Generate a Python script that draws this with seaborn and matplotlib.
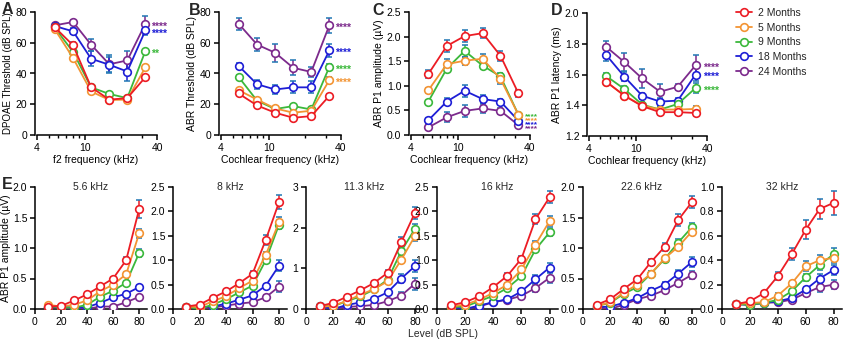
import numpy as np
import pandas as pd
import matplotlib
matplotlib.use("Agg")
import matplotlib.pyplot as plt
import seaborn as sns
from matplotlib.lines import Line2D
from matplotlib.ticker import FixedLocator, FixedFormatter, NullFormatter

# --- data ---
ages = ['2 Months', '5 Months', '9 Months', '18 Months', '24 Months']
colors = ['#EC1C24', '#F39433', '#3BB83B', '#1E1ED6', '#7C2A8C']
freqs = [5.6, 8, 11.3, 16, 22.6, 32]

# A: DPOAE threshold (dB SPL), rows follow `ages`
dpoae_thr = [[70.2, 58.3, 31.1, 23.0, 24.0, 37.6],
             [69.0, 50.0, 28.3, 22.8, 23.0, 44.0],
             [70.0, 54.0, 31.0, 26.7, 24.0, 54.6],
             [70.9, 67.4, 49.6, 45.7, 41.3, 68.0],
             [71.3, 73.5, 58.7, 46.0, 48.5, 72.4]]
dpoae_sem = [[1, 2, 1, 1, 1, 1],
             [1, 1, 1, 1, 1, 1],
             [1, 1, 1, 1, 1, 1],
             [1, 2, 5, 5, 6, 3],
             [1, 1, 4, 6, 6, 5]]

# B: ABR threshold (dB SPL)
abr_thr = [[27.0, 19.2, 14.5, 11.2, 12.3, 25.5],
           [29.2, 23.0, 17.3, 14.5, 15.8, 35.7],
           [37.8, 22.3, 16.9, 18.8, 16.6, 44.3],
           [45.0, 33.0, 29.6, 31.0, 31.0, 55.0],
           [72.4, 58.8, 53.5, 43.7, 41.0, 71.4]]
abr_sem = [[1, 1, 1, 1, 1, 1],
           [1, 1, 1, 1, 1, 2],
           [1, 1, 1, 1, 1, 2],
           [2, 3, 3, 4, 4, 4],
           [4, 4, 6, 5, 3, 5]]

# C: ABR P1 amplitude (uV) at 80 dB
p1_amp = [[1.24, 1.81, 2.01, 2.07, 1.61, 0.845],
          [0.91, 1.44, 1.51, 1.55, 1.14, 0.41],
          [0.68, 1.35, 1.71, 1.41, 1.19, 0.41],
          [0.30, 0.68, 0.90, 0.73, 0.68, 0.29],
          [0.155, 0.36, 0.49, 0.54, 0.49, 0.20]]
p1_amp_sem = [[0.08, 0.12, 0.12, 0.10, 0.10, 0.07],
              [0.05, 0.10, 0.08, 0.10, 0.10, 0.04],
              [0.04, 0.07, 0.12, 0.06, 0.08, 0.03],
              [0.05, 0.07, 0.12, 0.08, 0.06, 0.03],
              [0.04, 0.10, 0.12, 0.10, 0.06, 0.03]]

# D: ABR P1 latency (ms)
p1_lat = [[1.553, 1.462, 1.394, 1.355, 1.355, 1.350],
          [1.553, 1.462, 1.398, 1.372, 1.372, 1.376],
          [1.590, 1.505, 1.404, 1.372, 1.408, 1.512],
          [1.727, 1.585, 1.462, 1.424, 1.430, 1.600],
          [1.780, 1.680, 1.574, 1.488, 1.520, 1.660]]
p1_lat_sem = [[0.01, 0.02, 0.02, 0.02, 0.02, 0.02],
              [0.01, 0.02, 0.02, 0.02, 0.02, 0.02],
              [0.02, 0.02, 0.02, 0.02, 0.02, 0.03],
              [0.04, 0.03, 0.02, 0.02, 0.02, 0.04],
              [0.04, 0.06, 0.06, 0.05, 0.02, 0.07]]

# significance marks: (age index, y position, text)
stars_a = [(4, 72.4, '****'), (3, 67.5, '****'), (2, 54.6, '**')]
stars_b = [(4, 71.4, '****'), (3, 55.0, '****'), (2, 44.3, '****'), (1, 35.7, '****')]
stars_c = [(2, 0.44, '****'), (1, 0.36, '****'), (3, 0.27, '****'), (4, 0.19, '****')]
stars_d = [(4, 1.66, '****'), (3, 1.60, '****'), (2, 1.512, '****')]

# E: amplitude-level functions
levels = [10, 20, 30, 40, 50, 60, 70, 80]
io_titles = ['5.6 kHz', '8 kHz', '11.3 kHz', '16 kHz', '22.6 kHz', '32 kHz']
io_5k6 = [[0.04, 0.05, 0.14, 0.24, 0.37, 0.50, 0.80, 1.64],
          [0.07, 0.04, 0.07, 0.14, 0.29, 0.40, 0.57, 1.24],
          [0.04, 0.03, 0.02, 0.07, 0.20, 0.30, 0.43, 0.92],
          [0.03, 0.04, 0.02, 0.03, 0.10, 0.19, 0.25, 0.36],
          [0.03, 0.02, 0.01, 0.00, 0.04, 0.04, 0.11, 0.20]]
io_5k6_sem = [[0.01, 0.01, 0.02, 0.02, 0.03, 0.03, 0.05, 0.15],
              [0.01, 0.01, 0.01, 0.02, 0.02, 0.03, 0.04, 0.07],
              [0.01, 0.01, 0.01, 0.01, 0.02, 0.02, 0.03, 0.07],
              [0.01, 0.01, 0.01, 0.01, 0.01, 0.02, 0.02, 0.04],
              [0.01, 0.01, 0.01, 0.01, 0.01, 0.01, 0.02, 0.02]]
io_8k = [[0.05, 0.09, 0.23, 0.36, 0.53, 0.72, 1.42, 2.19],
         [0.05, 0.04, 0.16, 0.26, 0.43, 0.58, 1.11, 1.78],
         [0.05, 0.00, 0.09, 0.20, 0.34, 0.48, 1.00, 1.73],
         [0.04, 0.04, 0.05, 0.11, 0.19, 0.28, 0.48, 0.89],
         [0.04, 0.02, 0.03, 0.07, 0.11, 0.14, 0.24, 0.46]]
io_8k_sem = [[0.01, 0.01, 0.02, 0.03, 0.04, 0.05, 0.10, 0.15],
             [0.01, 0.01, 0.02, 0.02, 0.03, 0.04, 0.06, 0.10],
             [0.01, 0.01, 0.01, 0.02, 0.03, 0.03, 0.05, 0.10],
             [0.01, 0.01, 0.01, 0.01, 0.02, 0.02, 0.04, 0.12],
             [0.01, 0.01, 0.01, 0.01, 0.01, 0.02, 0.05, 0.12]]
io_11k3 = [[0.07, 0.15, 0.30, 0.46, 0.64, 0.89, 1.64, 2.36],
           [0.05, 0.08, 0.20, 0.35, 0.49, 0.68, 1.21, 1.79],
           [0.07, 0.07, 0.19, 0.31, 0.48, 0.72, 1.42, 1.97],
           [0.07, 0.00, 0.10, 0.16, 0.25, 0.41, 0.75, 1.05],
           [0.05, 0.00, 0.05, 0.07, 0.10, 0.19, 0.33, 0.62]]
io_11k3_sem = [[0.02, 0.02, 0.03, 0.04, 0.05, 0.07, 0.12, 0.15],
               [0.01, 0.02, 0.02, 0.03, 0.04, 0.05, 0.08, 0.12],
               [0.01, 0.02, 0.02, 0.03, 0.04, 0.05, 0.08, 0.12],
               [0.01, 0.01, 0.02, 0.02, 0.03, 0.05, 0.10, 0.15],
               [0.01, 0.01, 0.01, 0.02, 0.02, 0.03, 0.08, 0.15]]
io_16k = [[0.075, 0.14, 0.26, 0.45, 0.68, 1.03, 1.84, 2.29],
          [0.05, 0.09, 0.19, 0.33, 0.50, 0.81, 1.32, 1.80],
          [0.04, 0.05, 0.16, 0.27, 0.43, 0.67, 1.22, 1.57],
          [0.04, 0.00, 0.07, 0.14, 0.20, 0.36, 0.61, 0.85],
          [0.04, 0.00, 0.05, 0.14, 0.19, 0.27, 0.43, 0.64]]
io_16k_sem = [[0.01, 0.02, 0.03, 0.04, 0.05, 0.06, 0.10, 0.12],
              [0.01, 0.01, 0.02, 0.03, 0.04, 0.05, 0.08, 0.10],
              [0.01, 0.01, 0.02, 0.03, 0.03, 0.04, 0.06, 0.08],
              [0.01, 0.01, 0.01, 0.02, 0.02, 0.04, 0.08, 0.10],
              [0.01, 0.01, 0.01, 0.02, 0.02, 0.03, 0.08, 0.10]]
io_22k6 = [[0.07, 0.16, 0.33, 0.49, 0.77, 1.02, 1.46, 1.75],
           [0.05, 0.11, 0.27, 0.40, 0.58, 0.83, 1.02, 1.27],
           [0.05, 0.10, 0.25, 0.36, 0.58, 0.82, 1.09, 1.34],
           [0.03, 0.04, 0.10, 0.18, 0.30, 0.40, 0.58, 0.77],
           [0.03, 0.00, 0.07, 0.16, 0.22, 0.31, 0.43, 0.56]]
io_22k6_sem = [[0.02, 0.02, 0.03, 0.04, 0.05, 0.07, 0.10, 0.10],
               [0.01, 0.02, 0.02, 0.03, 0.04, 0.04, 0.05, 0.06],
               [0.01, 0.02, 0.02, 0.03, 0.04, 0.04, 0.05, 0.07],
               [0.01, 0.01, 0.02, 0.02, 0.04, 0.05, 0.06, 0.08],
               [0.01, 0.01, 0.01, 0.02, 0.02, 0.03, 0.05, 0.07]]
io_32k = [[0.04, 0.063, 0.13, 0.27, 0.45, 0.65, 0.82, 0.87],
          [0.04, 0.05, 0.055, 0.11, 0.21, 0.35, 0.40, 0.42],
          [0.04, 0.035, 0.05, 0.075, 0.145, 0.26, 0.36, 0.45],
          [0.04, 0.035, 0.05, 0.063, 0.09, 0.16, 0.25, 0.32],
          [0.04, 0.035, 0.05, 0.055, 0.077, 0.13, 0.18, 0.20]]
io_32k_sem = [[0.01, 0.01, 0.02, 0.03, 0.05, 0.08, 0.08, 0.10],
              [0.01, 0.01, 0.01, 0.02, 0.02, 0.04, 0.04, 0.04],
              [0.01, 0.01, 0.01, 0.01, 0.02, 0.03, 0.04, 0.05],
              [0.01, 0.01, 0.01, 0.01, 0.02, 0.02, 0.04, 0.04],
              [0.01, 0.01, 0.01, 0.01, 0.02, 0.02, 0.04, 0.04]]
io_means = [io_5k6, io_8k, io_11k3, io_16k, io_22k6, io_32k]
io_sems = [io_5k6_sem, io_8k_sem, io_11k3_sem, io_16k_sem, io_22k6_sem, io_32k_sem]
io_ymax = [2.0, 2.5, 3.0, 2.5, 2.0, 1.0]
io_ystep = [0.5, 0.5, 1.0, 0.5, 0.5, 0.2]

# --- style ---
sns.set_style("ticks")
plt.rcParams['font.family'] = ['Liberation Sans', 'DejaVu Sans']
plt.rcParams.update({
    'axes.linewidth': 1.1, 'axes.edgecolor': 'black',
    'xtick.major.width': 1.1, 'ytick.major.width': 1.1,
    'xtick.minor.width': 1.0, 'xtick.major.size': 3.5, 'ytick.major.size': 3.5,
    'xtick.minor.size': 2.5, 'xtick.major.pad': 2, 'ytick.major.pad': 2,
    'xtick.labelsize': 7.5, 'ytick.labelsize': 7.5,
    'xtick.color': 'black', 'ytick.color': 'black',
    'axes.labelsize': 7.5, 'axes.labelcolor': 'black',
})

W, H = 850, 347
fig = plt.figure(figsize=(W / 100, H / 100), dpi=100)


def px_axes(x0, y0, x1, y1):
    return fig.add_axes([x0 / W, 1 - y1 / H, (x1 - x0) / W, (y1 - y0) / H])


def draw_series(ax, x, means, sems):
    rows = []
    for age, m in zip(ages, means):
        for xi, yi in zip(x, m):
            rows.append({'x': xi, 'y': yi, 'age': age})
    df = pd.DataFrame(rows)
    for i in range(len(ages) - 1, -1, -1):
        ax.errorbar(x, means[i], yerr=sems[i], fmt='none', ecolor=colors[i],
                    elinewidth=1.1, capsize=2.5, capthick=1.1, zorder=2)
    sns.lineplot(data=df, x='x', y='y', hue='age', hue_order=ages[::-1],
                 palette=colors[::-1], marker='o', markersize=5.5, mfc='white',
                 mew=1.2, linewidth=1.3, errorbar=None, legend=False,
                 sort=False, ax=ax, zorder=3)
    for line in ax.lines:
        line.set_markeredgecolor(line.get_color())
    ax.set_xlabel('')
    ax.set_ylabel('')


def freq_axis(ax, xlabel):
    ax.set_xscale('log')
    ax.set_xlim(3.85, 40)
    ax.spines['bottom'].set_bounds(4, 40)
    ax.xaxis.set_major_locator(FixedLocator([4, 10, 40]))
    ax.xaxis.set_major_formatter(FixedFormatter(['4', '10', '40']))
    ax.xaxis.set_minor_locator(FixedLocator([5, 6, 7, 8, 9, 20, 30]))
    ax.xaxis.set_minor_formatter(NullFormatter())
    ax.set_xlabel(xlabel, labelpad=1.5)
    sns.despine(ax=ax)


def add_stars(ax, marks, x=35.5, size=7.5):
    # asterisk glyphs sit high in the line box, so anchor on the baseline
    for idx, y, txt in marks:
        ax.annotate(txt, (x, y), xytext=(0, -4.2 * size / 7.5),
                    textcoords='offset points', color=colors[idx],
                    fontsize=size, fontweight='bold', ha='left',
                    va='baseline', annotation_clip=False)


# --- top row ---
ax_a = px_axes(35, 12, 157, 135)
draw_series(ax_a, freqs, dpoae_thr, dpoae_sem)
freq_axis(ax_a, 'f2 frequency (kHz)')
ax_a.set_ylim(0, 80)
ax_a.set_yticks([0, 20, 40, 60, 80])
ax_a.set_ylabel('DPOAE Threshold (dB SPL)', labelpad=2, fontsize=7)
add_stars(ax_a, stars_a)

ax_b = px_axes(219, 12, 341, 135)
draw_series(ax_b, freqs, abr_thr, abr_sem)
freq_axis(ax_b, 'Cochlear frequency (kHz)')
ax_b.set_ylim(0, 80)
ax_b.set_yticks([0, 20, 40, 60, 80])
ax_b.set_ylabel('ABR Threshold (dB SPL)', labelpad=2)
add_stars(ax_b, stars_b)

ax_c = px_axes(409, 12, 530, 135)
draw_series(ax_c, freqs, p1_amp, p1_amp_sem)
freq_axis(ax_c, 'Cochlear frequency (kHz)')
ax_c.set_ylim(0, 2.5)
ax_c.set_yticks(np.arange(0, 2.51, 0.5))
ax_c.set_yticklabels([f'{v:.1f}' for v in np.arange(0, 2.51, 0.5)])
ax_c.set_ylabel('ABR P1 amplitude (µV)', labelpad=2)
add_stars(ax_c, stars_c, x=36, size=6)

ax_d = px_axes(587, 13, 707, 136)
draw_series(ax_d, freqs, p1_lat, p1_lat_sem)
freq_axis(ax_d, 'Cochlear frequency (kHz)')
ax_d.set_ylim(1.2, 2.0)
ax_d.set_yticks(np.arange(1.2, 2.01, 0.2))
ax_d.set_yticklabels([f'{v:.1f}' for v in np.arange(1.2, 2.01, 0.2)])
ax_d.set_ylabel('ABR P1 latency (ms)', labelpad=2)
add_stars(ax_d, stars_d, x=37)

# --- bottom row ---
e_boxes = [(35, 147), (173, 287), (306, 423), (437, 558), (583, 700), (722, 842)]
for k, (x0, x1) in enumerate(e_boxes):
    ax = px_axes(x0, 187, x1, 309)
    draw_series(ax, levels, io_means[k], io_sems[k])
    ax.set_xlim(0, 86)
    ax.set_xticks([0, 20, 40, 60, 80])
    ax.set_ylim(0, io_ymax[k])
    yt = np.arange(0, io_ymax[k] + 1e-6, io_ystep[k])
    ax.set_yticks(yt)
    if io_ystep[k] >= 1:
        ax.set_yticklabels([f'{v:.0f}' for v in yt])
    else:
        ax.set_yticklabels([f'{v:.1f}' for v in yt])
    ax.text(0.5, 1.0, io_titles[k], transform=ax.transAxes, ha='center',
            va='center', fontsize=7.5)
    sns.despine(ax=ax)
    if k == 0:
        ax.set_ylabel('ABR P1 amplitude (µV)', labelpad=1)

fig.text(443 / W, 1 - 334 / H, 'Level (dB SPL)', ha='center', va='center',
         fontsize=7.5)

# --- panel letters ---
for lbl, (px, py) in zip('ABCDE', [(2, 2), (189, 3), (372, 3), (551, 3), (2, 177)]):
    fig.text(px / W, 1 - py / H, lbl, ha='left', va='top', fontsize=11.5,
             fontweight='bold')

# --- legend ---
handles = [Line2D([0], [0], color=c, marker='o', mfc='white', mec=c, ms=5.5,
                  mew=1.2, lw=1.3) for c in colors]
fig.legend(handles, ages, loc='upper left', bbox_to_anchor=(736 / W, 1 - 8 / H),
           frameon=False, fontsize=7.5, handlelength=1.5, handletextpad=0.6,
           labelspacing=0.45, borderaxespad=0, borderpad=0)

fig.savefig('out.png', dpi=100)
